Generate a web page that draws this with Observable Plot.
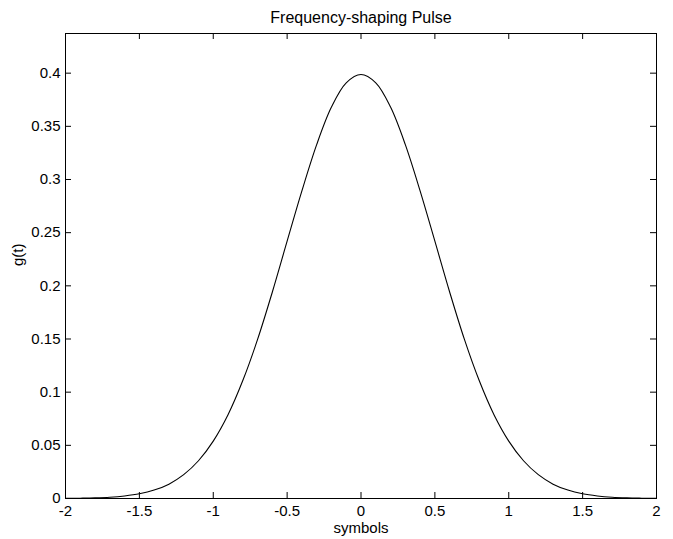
<!DOCTYPE html>
<html>
<head>
<meta charset="utf-8">
<script src="https://cdn.jsdelivr.net/npm/d3@7"></script>
<script src="https://cdn.jsdelivr.net/npm/@observablehq/plot@0.6"></script>
<style>
  html, body { margin: 0; padding: 0; background: #fff; }
</style>
</head>
<body>
<div id="chart"></div>
<script>
const titleText = "Frequency-shaping Pulse";
const xLabel = "symbols";
const yLabel = "g(t)";

const tValues = [-2.0, -1.9, -1.8, -1.7, -1.6, -1.5, -1.4, -1.3, -1.2, -1.1, -1.0,
                 -0.9, -0.8, -0.7, -0.6, -0.5, -0.4, -0.3, -0.2, -0.1, 0.0,
                 0.1, 0.2, 0.3, 0.4, 0.5, 0.6, 0.7, 0.8, 0.9, 1.0,
                 1.1, 1.2, 1.3, 1.4, 1.5, 1.6, 1.7, 1.8, 1.9, 2.0];
const gValues = [0.0001, 0.0003, 0.0006, 0.0012, 0.0024, 0.0044, 0.0079, 0.0135, 0.0224, 0.0355, 0.0540,
                 0.0788, 0.1109, 0.1496, 0.1942, 0.2420, 0.2893, 0.3328, 0.3681, 0.3909, 0.3987,
                 0.3909, 0.3681, 0.3328, 0.2893, 0.2420, 0.1942, 0.1496, 0.1109, 0.0788, 0.0540,
                 0.0355, 0.0224, 0.0135, 0.0079, 0.0044, 0.0024, 0.0012, 0.0006, 0.0003, 0.0001];

const xTicks = [-2, -1.5, -1, -0.5, 0, 0.5, 1, 1.5, 2];
const yTicks = [0, 0.05, 0.1, 0.15, 0.2, 0.25, 0.3, 0.35, 0.4];
const xTickLabels = ["-2", "-1.5", "-1", "-0.5", "0", "0.5", "1", "1.5", "2"];
const yTickLabels = ["0", "0.05", "0.1", "0.15", "0.2", "0.25", "0.3", "0.35", "0.4"];

const data = tValues.map((t, i) => ({t, g: gValues[i]}));

const W = 673, H = 539;
const mL = 65, mR = 17, mT = 33, mB = 41;
const plotW = W - mL - mR, plotH = H - mT - mB;
const tick = 6;

const chart = Plot.plot({
  width: W,
  height: H,
  marginLeft: mL,
  marginRight: mR,
  marginTop: mT,
  marginBottom: mB,
  style: {fontFamily: "'Liberation Sans', Arial, Helvetica, sans-serif", fontSize: "15px", color: "black", background: "white"},
  x: {domain: [-2, 2]},
  y: {domain: [0, 0.4373]},
  marks: [
    Plot.axisX({ticks: xTicks, tickFormat: d => xTickLabels[xTicks.indexOf(d)], tickSize: 0, tickPadding: 7, label: null, fontSize: 15}),
    Plot.axisY({ticks: yTicks, tickFormat: d => yTickLabels[yTicks.indexOf(d)], tickSize: 0, tickPadding: 5, label: null, fontSize: 15}),
    Plot.ruleX(xTicks, {x: d => d, insetTop: plotH - tick, stroke: "black"}),
    Plot.ruleX(xTicks, {x: d => d, insetBottom: plotH - tick, stroke: "black"}),
    Plot.ruleY(yTicks, {y: d => d, insetRight: plotW - tick, stroke: "black"}),
    Plot.ruleY(yTicks, {y: d => d, insetLeft: plotW - tick, stroke: "black"}),
    Plot.frame({stroke: "black", strokeWidth: 1}),
    Plot.line(data, {x: "t", y: "g", stroke: "black", strokeWidth: 1.1, curve: "catmull-rom"}),
    Plot.text([titleText], {text: d => d, frameAnchor: "top", dy: -16, fontSize: 16, lineAnchor: "middle"}),
    Plot.text([xLabel], {text: d => d, frameAnchor: "bottom", dy: 30, fontSize: 15, lineAnchor: "middle"}),
    Plot.text([yLabel], {text: d => d, frameAnchor: "left", dx: -47, rotate: -90, fontSize: 15, lineAnchor: "middle"})
  ]
});
document.getElementById("chart").appendChild(chart);
</script>
</body>
</html>
